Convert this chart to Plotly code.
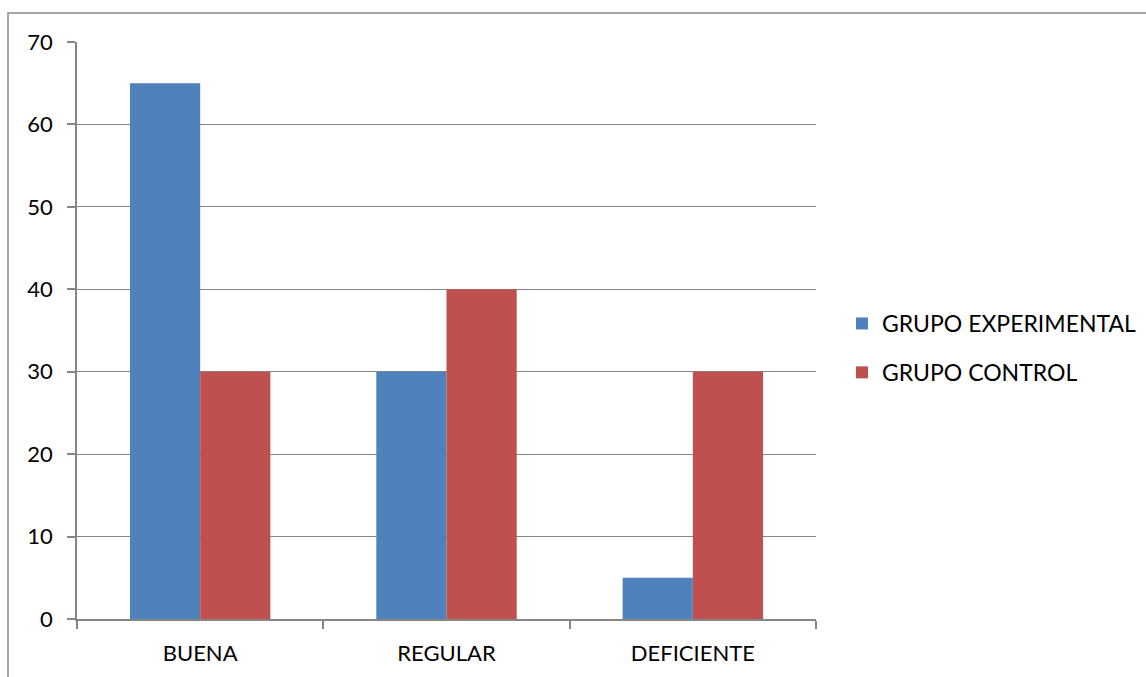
import plotly.graph_objects as go

categorias = ["BUENA", "REGULAR", "DEFICIENTE"]
grupo_experimental = [65, 30, 5]
grupo_control = [30, 40, 30]
ticks_y = [0, 10, 20, 30, 40, 50, 60, 70]

AZUL = "#4F81BD"
ROJO = "#C0504D"
GRIS = "#868686"
FUENTE = "Lato"

fig = go.Figure()
fig.add_trace(go.Bar(
    x=categorias, y=grupo_experimental, name="GRUPO EXPERIMENTAL",
    marker=dict(color=AZUL, line=dict(width=0)), legendgroup="a",
))
fig.add_trace(go.Bar(
    x=categorias, y=grupo_control, name="GRUPO CONTROL",
    marker=dict(color=ROJO, line=dict(width=0)), legendgroup="b",
))

W, H = 1146, 677
L, R, T, B = 77, 330, 42, 58
pw, ph = W - L - R, H - T - B

def px(x):
    return (x - L) / pw

def py(y):
    return (H - B - y) / ph

fig.update_layout(
    width=W, height=H,
    margin=dict(l=L, r=R, t=T, b=B, autoexpand=False),
    paper_bgcolor="white", plot_bgcolor="white",
    barmode="group", bargap=0.43, bargroupgap=0,
    font=dict(family=FUENTE, size=22, color="#000000"),
    showlegend=True,
    legend=dict(
        x=px(842), xanchor="left", y=py(348), yanchor="middle",
        font=dict(family=FUENTE, size=23, color="#000000"),
        traceorder="grouped", tracegroupgap=16,
        itemwidth=30, bgcolor="rgba(0,0,0,0)",
    ),
    xaxis=dict(
        type="category", showline=True, linecolor=GRIS, linewidth=1.5,
        ticks="outside", tickson="boundaries", ticklen=8, tickcolor=GRIS,
        tickwidth=1.5, showgrid=False, ticklabelstandoff=14,
        tickfont=dict(family=FUENTE, size=22),
    ),
    yaxis=dict(
        range=[0, 70], tickvals=ticks_y, showline=True, linecolor=GRIS,
        linewidth=1.5, ticks="outside", ticklen=8, tickcolor=GRIS, tickwidth=1.5,
        showgrid=True, gridcolor=GRIS, gridwidth=1, zeroline=False,
        ticklabelstandoff=10, tickfont=dict(family=FUENTE, size=22),
    ),
    shapes=[dict(
        type="rect", xref="paper", yref="paper",
        x0=px(8), x1=px(1200), y0=py(720), y1=py(13),
        line=dict(color=GRIS, width=1.5), fillcolor="rgba(0,0,0,0)", layer="below",
    )],
)

fig.write_html("out.html")
